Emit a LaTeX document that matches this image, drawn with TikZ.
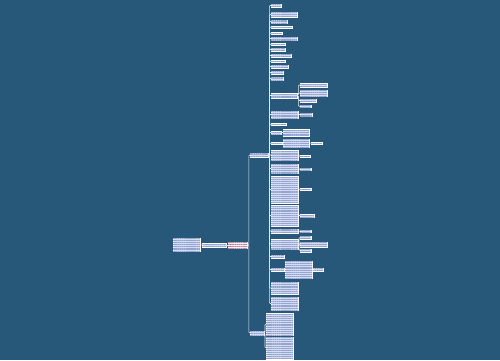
\documentclass[tikz,border=0pt]{standalone}
\usetikzlibrary{patterns.meta}
\definecolor{bg}{HTML}{275779}
\definecolor{boxfill}{HTML}{D3DCF4}
\definecolor{txtc}{HTML}{95A4CC}
\definecolor{rootfill}{HTML}{F8EEF4}
\definecolor{roottxt}{HTML}{B88AA4}
\definecolor{linec}{HTML}{E2E9F6}
\newcommand\mbx[6][box]{%
  \pgfmathsetmacro\bw{#5-#3}\pgfmathsetmacro\bh{#6-#4}%
  \node[#1,minimum width=\bw pt,minimum height=\bh pt] (#2) at ({(#3+#5)/2},{(#4+#6)/2}) {};}
\begin{document}
\begin{tikzpicture}[x=1pt,y=-1pt,
  box/.style={draw=white,line width=0.4pt,fill=boxfill,inner sep=0pt,outer sep=0pt,rectangle,
    postaction={pattern={Lines[distance=1.9pt,line width=0.7pt]},pattern color=txtc}},
  rootbox/.style={draw=white,line width=0.4pt,fill=rootfill,inner sep=0pt,outer sep=0pt,rectangle,
    postaction={pattern={Lines[distance=1.9pt,line width=0.6pt]},pattern color=roottxt}},
  conn/.style={draw=linec,line width=0.6pt,rounded corners=1pt}]
\fill[bg] (0,0) rectangle (500,360);
\useasboundingbox (0,0) rectangle (500,360);
% root and left side
\mbx[rootbox]{root}{228}{242}{247}{248}
\mbx{L1}{202}{243}{226}{247}
\mbx{L2}{173}{238}{200}{251}
% branches
\mbx{b1}{250}{153}{268}{157}
\mbx{b2}{250}{331}{264}{335}
% branch 1 children
\mbx{c1}{271}{4}{281}{7}
\mbx{c2}{271}{12}{297}{17}
\mbx{c3}{271}{20}{287}{23}
\mbx{c4}{271}{26}{292}{28.5}
\mbx{c5}{271}{32}{282}{34.5}
\mbx{c6}{271}{37}{297}{40}
\mbx{c7}{271}{43}{285}{45.5}
\mbx{c8}{271}{48}{285}{51}
\mbx{c9}{271}{54}{291}{57}
\mbx{c10}{271}{60}{285}{62.5}
\mbx{c11}{271}{65}{288}{68}
\mbx{c12}{271}{71}{283}{74}
\mbx{c13}{271}{77}{283}{80}
\mbx{c14}{271}{93}{297}{98}
\mbx{c15}{271}{111}{298}{118}
\mbx{c16}{271}{123}{286}{125.5}
\mbx{c17}{271}{131}{281}{134}
\mbx{c18}{271}{142}{282}{144.5}
\mbx{c19}{271}{150}{298}{160}
\mbx{c20}{271}{164}{298}{173}
\mbx{c21}{271}{176}{298}{203}
\mbx{c22}{271}{205}{298}{226}
\mbx{c23}{271}{229}{298}{233}
\mbx{c24}{271}{239}{298}{249}
\mbx{c25}{271}{255}{284}{258}
\mbx{c26}{271}{268}{284}{271}
\mbx{c27}{271}{282}{298}{294}
\mbx{c28}{271}{297}{298}{310}
% grandchildren
\mbx{g14a}{300}{83}{327}{87}
\mbx{g14b}{300}{90}{327}{96}
\mbx{g14c}{300}{99}{316}{102}
\mbx{g14d}{300}{105}{311}{107.5}
\mbx{g15}{300}{113}{312}{116}
\mbx{g17}{283}{129}{309}{136}
\mbx{g18}{283}{139}{309}{147}
\mbx{gg18}{311}{142}{322}{144.5}
\mbx{g19}{300}{155}{310}{157.5}
\mbx{g20}{300}{168}{311}{170.5}
\mbx{g21}{300}{188}{311}{190.5}
\mbx{g22}{300}{214}{314}{217}
\mbx{g23}{300}{230}{311}{232.5}
\mbx{g24a}{300}{236}{311}{239}
\mbx{g24b}{300}{242}{327}{247}
\mbx{g24c}{300}{249}{311}{252}
\mbx{g26}{285}{261}{312}{278}
\mbx{gg26}{313}{268}{323}{271}
% branch 2 children
\mbx{d1}{266}{313}{293}{335}
\mbx{d2}{266}{337}{293}{359}
% connectors
\draw[conn] (root.west) -- (L1.east);
\draw[conn] (L1.west) -- (L2.east);
\draw[conn] (root.east) -- ++(1.8,0) |- (b1.west);
\draw[conn] (root.east) -- ++(1.8,0) |- (b2.west);
\foreach \i in {1,...,28} \draw[conn] (b1.east) -- ++(1.3,0) |- (c\i.west);
\foreach \g in {g14a,g14b,g14c,g14d} \draw[conn] (c14.east) -- ++(1.3,0) |- (\g.west);
\draw[conn] (c15.east) -- (g15.west -| c15.east) -- (g15.west);
\draw[conn] (c17.east) -- (g17.west);
\draw[conn] (c18.east) -- (g18.west);
\draw[conn] (g18.east) -- (gg18.west);
\draw[conn] (c19.east) -- (g19.west);
\draw[conn] (c20.east) -- (g20.west);
\draw[conn] (c21.east) -- (g21.west);
\draw[conn] (c22.east) -- (g22.west);
\draw[conn] (c23.east) -- (g23.west);
\foreach \g in {g24a,g24b,g24c} \draw[conn] (c24.east) -- ++(1,0) |- (\g.west);
\draw[conn] (c26.east) -- (g26.west);
\draw[conn] (g26.east) -- (gg26.west);
\foreach \d in {d1,d2} \draw[conn] (b2.east) -- ++(1,0) |- (\d.west);
\end{tikzpicture}
\end{document}
